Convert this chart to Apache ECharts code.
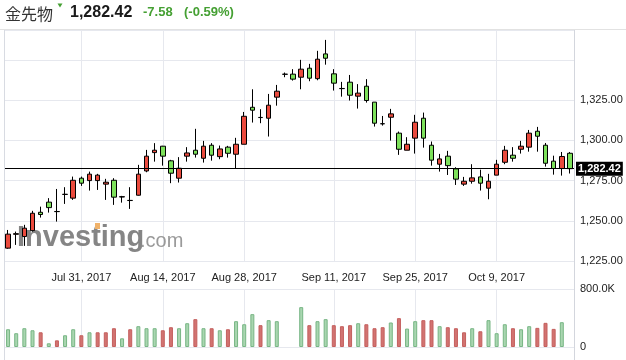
<!DOCTYPE html>
<html><head><meta charset="utf-8">
<script src="https://cdn.jsdelivr.net/npm/echarts@6/dist/echarts.min.js"></script>
<style>html,body{margin:0;padding:0;background:#fff}#c{width:626px;height:360px}</style>
</head><body><div id="c"></div>
<script>
const title = '金先物';
const lastPrice = 1282.42;
const change = -7.58;
const changePct = -0.59;

const dates = ['2017-07-18','2017-07-19','2017-07-20','2017-07-21','2017-07-24','2017-07-25','2017-07-26','2017-07-27','2017-07-28','2017-07-31',
'2017-08-01','2017-08-02','2017-08-03','2017-08-04','2017-08-07','2017-08-08','2017-08-09','2017-08-10','2017-08-11','2017-08-14',
'2017-08-15','2017-08-16','2017-08-17','2017-08-18','2017-08-21','2017-08-22','2017-08-23','2017-08-24','2017-08-25','2017-08-28',
'2017-08-29','2017-08-30','2017-08-31','2017-09-01','2017-09-03','2017-09-04','2017-09-05','2017-09-06','2017-09-07','2017-09-08',
'2017-09-11','2017-09-12','2017-09-13','2017-09-14','2017-09-15','2017-09-18','2017-09-19','2017-09-20','2017-09-21','2017-09-22',
'2017-09-25','2017-09-26','2017-09-27','2017-09-28','2017-09-29','2017-10-02','2017-10-03','2017-10-04','2017-10-05','2017-10-06',
'2017-10-09','2017-10-10','2017-10-11','2017-10-12','2017-10-13','2017-10-16','2017-10-17','2017-10-18','2017-10-19','2017-10-20'];

const opens = [1233.0,1241.6,1240.2,1243.9,1255.3,1261.6,1255.8,1266.4,1264.1,1276.5,
1275.0,1275.0,1272.8,1275.2,1264.8,1262.7,1265.9,1281.0,1292.4,1296.4,
1287.3,1276.5,1290.2,1293.9,1288.9,1297.0,1289.9,1295.8,1291.4,1297.6,
1320.6,1314.3,1313.8,1326.9,1341.1,1341.2,1339.3,1344.9,1338.4,1353.8,
1341.4,1332.3,1336.2,1327.5,1333.7,1323.8,1310.4,1314.4,1304.5,1293.9,
1301.4,1313.8,1297.0,1285.2,1290.2,1282.3,1272.8,1274.6,1277.3,1270.3,
1278.4,1286.4,1290.8,1294.5,1295.8,1305.7,1297.0,1287.1,1282.5,1292.0];

const closes = [1241.7,1242.0,1245.4,1254.7,1253.9,1258.2,1255.7,1266.5,1275.2,1273.4,
1279.0,1278.4,1274.0,1264.7,1265.0,1262.6,1279.0,1290.2,1293.9,1290.2,
1279.6,1282.7,1292.2,1291.4,1296.4,1290.8,1294.7,1292.0,1297.6,1315.0,
1318.8,1314.2,1321.9,1330.6,1341.2,1338.1,1344.3,1338.7,1350.5,1351.1,
1335.6,1332.2,1328.1,1329.4,1324.8,1310.7,1310.3,1316.5,1294.5,1297.6,
1311.3,1301.4,1287.7,1288.5,1284.3,1275.9,1274.6,1276.7,1273.4,1274.6,
1285.2,1293.9,1288.9,1296.4,1304.5,1302.6,1285.8,1282.5,1290.0,1282.42];

const lows = [1232.6,1235.0,1234.4,1243.3,1252.0,1255.1,1249.5,1260.5,1263.0,1271.7,
1268.8,1269.2,1263.0,1259.9,1261.3,1257.4,1265.7,1280.2,1286.8,1284.3,
1273.4,1273.8,1286.8,1289.3,1286.2,1287.4,1288.3,1289.3,1282.3,1297.6,
1311.1,1310.7,1302.4,1321.6,1339.3,1337.2,1331.8,1336.8,1337.4,1347.1,
1331.0,1327.2,1324.8,1319.8,1323.5,1308.6,1309.2,1299.9,1291.0,1293.9,
1291.8,1295.5,1284.3,1280.6,1278.5,1272.3,1271.7,1273.1,1268.8,1263.4,
1278.4,1285.2,1286.8,1291.8,1293.0,1293.0,1283.7,1278.7,1278.1,1279.4];

const highs = [1244.3,1243.3,1247.5,1256.2,1258.8,1264.1,1269.8,1270.9,1277.5,1277.5,
1280.6,1279.2,1276.1,1276.5,1265.5,1270.9,1284.8,1294.1,1298.3,1296.6,
1287.9,1289.6,1295.8,1307.2,1299.7,1298.3,1296.8,1296.6,1301.6,1317.7,
1331.8,1319.4,1328.9,1334.5,1342.2,1344.3,1350.1,1347.6,1355.7,1362.5,
1344.3,1336.4,1340.7,1335.0,1338.1,1323.8,1315.2,1319.6,1305.5,1302.0,
1315.9,1317.3,1299.3,1291.6,1293.5,1283.3,1277.3,1285.2,1281.8,1279.2,
1287.9,1296.6,1295.8,1299.7,1306.5,1308.4,1298.4,1290.5,1292.8,1292.8];

// volume in thousands (K); null = no bar
const volumes = [245,190,259,231,203,51,92,162,245,162,
203,203,203,259,120,245,287,259,259,231,
273,259,328,384,259,259,231,245,356,314,
453,301,370,356,null,null,550,301,356,384,
301,287,301,328,314,259,273,338,398,254,
356,370,370,287,273,259,203,259,217,370,
190,314,259,245,287,264,333,250,342,null];

const tickDates = ['2017-07-31','2017-08-14','2017-08-28','2017-09-11','2017-09-25','2017-10-09'];
const priceLabels = [1225, 1250, 1275, 1300, 1325];
const monthNames = ['Jan','Feb','Mar','Apr','May','Jun','Jul','Aug','Sep','Oct','Nov','Dec'];

const UP = '#ea4a3d', DOWN = '#7de15b';
const VUP_F = '#a9d6b0', VUP_B = '#77b584', VDN_F = '#d27371', VDN_B = '#c45f5d';
const GRIDC = '#e6e8ee';
const GREEN_TXT = '#45a033';
const FONT = 'Liberation Sans, Arial, sans-serif';

const fmtDate = v => { const p = v.split('-'); return monthNames[+p[1]-1] + ' ' + (+p[2]) + ', ' + p[0]; };
const fmtPrice = v => v.toLocaleString('en-US', {minimumFractionDigits:2, maximumFractionDigits:2});
const showTick = (idx) => tickDates.indexOf(dates[idx]) >= 0;

const ohlc = dates.map((d, i) => [opens[i], closes[i], lows[i], highs[i]]);
const volData = volumes.map((v, i) => {
  if (v == null) return null;
  const up = i === 0 || closes[i] >= closes[i-1];
  return {value: v, itemStyle: {color: up ? VUP_F : VDN_F, borderColor: up ? VUP_B : VDN_B}};
});

const chart = echarts.init(document.getElementById('c'), null, {renderer: 'canvas'});
const xCommon = {
  type: 'category', data: dates, boundaryGap: true,
  axisLine: {show: false}, axisTick: {show: false},
  splitLine: {show: true, interval: showTick, alignWithLabel: true, lineStyle: {color: GRIDC, width: 1}}
};
chart.setOption({
  animation: false,
  textStyle: {fontFamily: FONT},
  grid: [
    {left: 4, right: 52, top: 30, height: 231},
    {left: 4, right: 52, top: 289, height: 58}
  ],
  xAxis: [
    Object.assign({}, xCommon, {gridIndex: 0,
      axisLabel: {interval: showTick, formatter: fmtDate, color: '#222', fontSize: 11, margin: 11, fontFamily: FONT}}),
    Object.assign({}, xCommon, {gridIndex: 1, axisLabel: {show: false}})
  ],
  yAxis: [
    {type: 'value', gridIndex: 0, position: 'right', min: 1225, max: 1368.66, interval: 25, scale: true,
     axisLine: {show: true, lineStyle: {color: '#d3d6dd'}}, axisTick: {show: false},
     axisLabel: {showMaxLabel: false, margin: 6, color: '#222', fontSize: 11, fontFamily: FONT,
       formatter: v => priceLabels.indexOf(Math.round(v * 100) / 100) >= 0 ? fmtPrice(v) : ''},
     splitLine: {lineStyle: {color: GRIDC}}},
    {type: 'value', gridIndex: 1, position: 'right', min: 0, max: 800, interval: 800,
     axisLine: {show: true, lineStyle: {color: '#d3d6dd'}}, axisTick: {show: false},
     axisLabel: {margin: 6, color: '#222', fontSize: 11, fontFamily: FONT,
       formatter: v => v === 0 ? '0' : v.toFixed(1) + 'K'},
     splitLine: {lineStyle: {color: GRIDC}}}
  ],
  series: [
    {type: 'candlestick', xAxisIndex: 0, yAxisIndex: 0, data: ohlc, barWidth: 5, z: 3,
     itemStyle: {color: UP, color0: DOWN, borderColor: '#000', borderColor0: '#000', borderColorDoji: '#000', borderWidth: 1},
     markLine: {silent: true, symbol: ['none', 'none'], animation: false,
       lineStyle: {color: '#000', width: 1, type: 'solid'},
       label: {position: 'end', distance: 2, formatter: () => fmtPrice(lastPrice), color: '#fff',
         backgroundColor: '#000', fontWeight: 'bold', fontSize: 11, fontFamily: FONT, padding: [2, 2, 1, 2]},
       emphasis: {disabled: true},
       data: [{yAxis: lastPrice}]}},
    {type: 'bar', xAxisIndex: 1, yAxisIndex: 1, data: volData, barWidth: 4,
     itemStyle: {borderWidth: 1}}
  ],
  graphic: [
    {type: 'line', z: 10, shape: {x1: 0, y1: 29.5, x2: 626, y2: 29.5}, style: {stroke: '#e2e2e2', lineWidth: 1}},
    {type: 'line', z: 10, shape: {x1: 4.5, y1: 30, x2: 4.5, y2: 360}, style: {stroke: '#d8dbe2', lineWidth: 1}},
    {type: 'line', z: 10, shape: {x1: 574.5, y1: 30, x2: 574.5, y2: 360}, style: {stroke: '#d3d6dd', lineWidth: 1}},
    {type: 'text', z: 10, style: {text: title, x: 5, y: 13.5, verticalAlign: 'middle', fill: '#333',
      font: '16px "Noto Sans CJK JP", sans-serif'}},
    {type: 'polygon', z: 10, shape: {points: [[57.5, 3.5], [62.5, 3.5], [60, 7.5]]}, style: {fill: GREEN_TXT}},
    {type: 'text', z: 10, style: {text: fmtPrice(lastPrice), x: 70, y: 12.5, verticalAlign: 'middle', fill: '#1a1a1a',
      font: 'bold 16px Liberation Sans, Arial, sans-serif'}},
    {type: 'text', z: 10, style: {text: change.toFixed(2), x: 143, y: 12.5, verticalAlign: 'middle', fill: GREEN_TXT,
      font: 'bold 13px Liberation Sans, Arial, sans-serif'}},
    {type: 'text', z: 10, style: {text: '(' + changePct.toFixed(2) + '%)', x: 184, y: 12.5, verticalAlign: 'middle', fill: GREEN_TXT,
      font: 'bold 13px Liberation Sans, Arial, sans-serif'}},
    {type: 'text', z: 1, style: {text: 'Investing', x: 17, y: 238, verticalAlign: 'middle', fill: '#858585',
      font: 'bold 29px Liberation Sans, Arial, sans-serif'}},
    {type: 'text', z: 1, style: {text: '.com', x: 140, y: 241, verticalAlign: 'middle', fill: '#9a9a9a',
      font: '20px Liberation Sans, Arial, sans-serif'}},
    {type: 'rect', z: 1, shape: {x: 95, y: 223, width: 5, height: 6}, style: {fill: '#f0b26a'}}
  ]
});
</script></body></html>
